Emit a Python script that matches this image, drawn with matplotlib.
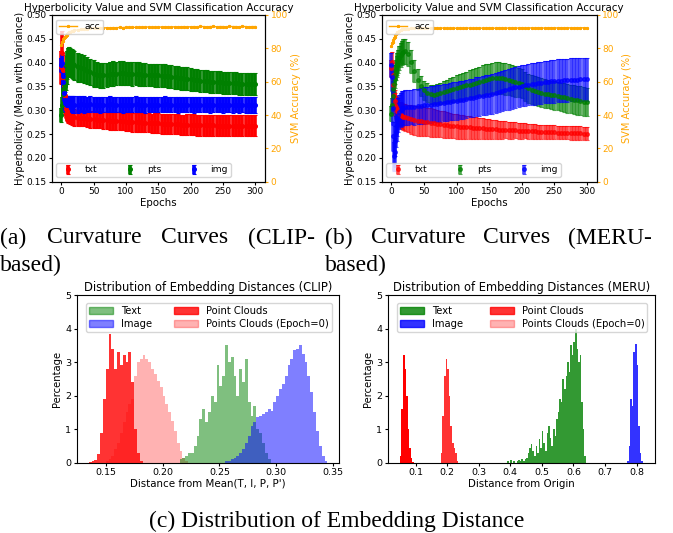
import numpy as np
import matplotlib
matplotlib.use("Agg")
import matplotlib.pyplot as plt
from matplotlib.patches import Patch

plt.rcParams['font.family'] = ['DejaVu Sans']
plt.rcParams['font.size'] = 6.5

# ---- curvature curves (epochs sampled densely early, every 5 after) ----
ep = [0, 1, 2, 3, 4, 5, 6, 7, 8, 9, 10, 12, 14, 16, 18, 20,
      25, 30, 35, 40, 45, 50, 55, 60,
      65, 70, 75, 80, 85, 90, 95, 100,
      105, 110, 115, 120, 125, 130, 135, 140,
      145, 150, 155, 160, 165, 170, 175, 180,
      185, 190, 195, 200, 205, 210, 215, 220,
      225, 230, 235, 240, 245, 250, 255, 260,
      265, 270, 275, 280, 285, 290, 295, 300]

# CLIP-based
clip_txt = [0.390, 0.421, 0.385, 0.368, 0.350, 0.330, 0.312, 0.303, 0.298, 0.295, 0.292, 0.290, 0.288, 0.287, 0.286, 0.285,
            0.284, 0.283, 0.283, 0.282, 0.281, 0.281, 0.280, 0.280,
            0.279, 0.279, 0.278, 0.278, 0.277, 0.277, 0.277, 0.276,
            0.276, 0.275, 0.275, 0.275, 0.274, 0.274, 0.274, 0.273,
            0.273, 0.273, 0.272, 0.272, 0.272, 0.271, 0.271, 0.271,
            0.270, 0.270, 0.270, 0.270, 0.270, 0.269, 0.269, 0.269,
            0.269, 0.269, 0.269, 0.268, 0.268, 0.268, 0.268, 0.268,
            0.268, 0.268, 0.268, 0.268, 0.268, 0.268, 0.268, 0.268]
clip_txt_err = [0.035, 0.045, 0.030, 0.025, 0.025, 0.025, 0.022, 0.020, 0.019, 0.018, 0.018, 0.017, 0.017, 0.017, 0.017, 0.017,
                0.017, 0.017, 0.017, 0.018, 0.018, 0.018, 0.018, 0.018,
                0.018, 0.018, 0.019, 0.019, 0.019, 0.019, 0.019, 0.019,
                0.020, 0.020, 0.020, 0.020, 0.020, 0.020, 0.020, 0.020,
                0.021, 0.021, 0.021, 0.021, 0.021, 0.021, 0.021, 0.021,
                0.021, 0.021, 0.022, 0.022, 0.022, 0.022, 0.022, 0.022,
                0.022, 0.022, 0.022, 0.022, 0.022, 0.022, 0.022, 0.022,
                0.022, 0.022, 0.022, 0.022, 0.022, 0.022, 0.022, 0.022]
clip_pts = [0.290, 0.312, 0.335, 0.345, 0.355, 0.350, 0.355, 0.370, 0.385, 0.395, 0.400, 0.402, 0.400, 0.398, 0.396, 0.394,
            0.390, 0.388, 0.386, 0.383, 0.380, 0.377, 0.375, 0.373,
            0.373, 0.374, 0.376, 0.377, 0.377, 0.378, 0.378, 0.377,
            0.377, 0.376, 0.377, 0.376, 0.375, 0.375, 0.374, 0.374,
            0.373, 0.373, 0.372, 0.372, 0.371, 0.370, 0.369, 0.368,
            0.367, 0.366, 0.366, 0.365, 0.364, 0.363, 0.362, 0.362,
            0.361, 0.360, 0.360, 0.359, 0.359, 0.358, 0.358, 0.357,
            0.357, 0.357, 0.356, 0.356, 0.356, 0.355, 0.355, 0.355]
clip_pts_err = [0.015, 0.015, 0.015, 0.015, 0.018, 0.020, 0.024, 0.027, 0.029, 0.030, 0.030, 0.030, 0.030, 0.030, 0.030, 0.030,
                0.030, 0.029, 0.029, 0.028, 0.028, 0.028, 0.027, 0.027,
                0.027, 0.026, 0.026, 0.026, 0.025, 0.025, 0.025, 0.025,
                0.025, 0.025, 0.025, 0.025, 0.025, 0.024, 0.024, 0.024,
                0.024, 0.024, 0.024, 0.024, 0.024, 0.024, 0.024, 0.024,
                0.024, 0.024, 0.024, 0.024, 0.023, 0.023, 0.023, 0.023,
                0.023, 0.023, 0.023, 0.023, 0.023, 0.023, 0.023, 0.023,
                0.023, 0.023, 0.023, 0.023, 0.023, 0.023, 0.023, 0.023]
clip_img = [0.395, 0.400, 0.372, 0.360, 0.336, 0.322, 0.316, 0.313, 0.312, 0.312, 0.312, 0.312, 0.312, 0.312, 0.312, 0.312,
            0.312, 0.313, 0.312, 0.312, 0.313, 0.312, 0.312, 0.311,
            0.312, 0.312, 0.313, 0.312, 0.312, 0.312, 0.311, 0.312,
            0.312, 0.312, 0.313, 0.312, 0.312, 0.311, 0.312, 0.312,
            0.312, 0.312, 0.312, 0.313, 0.312, 0.312, 0.312, 0.311,
            0.312, 0.312, 0.312, 0.312, 0.311, 0.312, 0.312, 0.312,
            0.312, 0.311, 0.312, 0.312, 0.312, 0.311, 0.312, 0.312,
            0.311, 0.312, 0.311, 0.312, 0.311, 0.311, 0.311, 0.311]
clip_img_err = [0.015, 0.020, 0.018, 0.018, 0.017, 0.017, 0.017, 0.017, 0.017, 0.017, 0.017, 0.017, 0.017, 0.017, 0.017, 0.017,
                0.017, 0.017, 0.017, 0.016, 0.016, 0.016, 0.016, 0.016,
                0.016, 0.016, 0.016, 0.016, 0.016, 0.016, 0.016, 0.016,
                0.016, 0.016, 0.016, 0.016, 0.016, 0.016, 0.016, 0.016,
                0.016, 0.016, 0.016, 0.016, 0.016, 0.016, 0.016, 0.016,
                0.016, 0.016, 0.016, 0.016, 0.016, 0.016, 0.016, 0.016,
                0.016, 0.016, 0.016, 0.016, 0.016, 0.016, 0.016, 0.016,
                0.016, 0.016, 0.016, 0.016, 0.016, 0.016, 0.016, 0.016]
clip_acc = [82.0, 83.5, 84.5, 85.3, 86.0, 86.5, 87.0, 87.5, 88.0, 88.5, 89.0, 89.5, 90.0, 90.3, 90.5, 90.7,
            91.0, 91.3, 91.5, 91.7, 91.9, 92.0, 92.1, 92.2,
            92.2, 92.3, 92.2, 92.4, 92.3, 92.5, 92.4, 92.6,
            92.5, 92.6, 92.5, 92.7, 92.6, 92.7, 92.8, 92.6,
            92.7, 92.8, 92.7, 92.9, 92.8, 92.7, 92.9, 92.8,
            92.9, 93.0, 92.8, 92.9, 93.0, 92.9, 93.1, 93.0,
            92.9, 93.0, 93.1, 92.9, 93.0, 93.0, 92.9, 93.1,
            93.0, 93.0, 92.9, 93.1, 93.0, 92.9, 93.0, 93.0]

# MERU-based
meru_txt = [0.388, 0.402, 0.375, 0.352, 0.333, 0.320, 0.312, 0.306, 0.302, 0.298, 0.296, 0.292, 0.290, 0.288, 0.286, 0.285,
            0.283, 0.281, 0.279, 0.278, 0.277, 0.276, 0.275, 0.274,
            0.273, 0.272, 0.271, 0.270, 0.269, 0.268, 0.267, 0.266,
            0.265, 0.265, 0.264, 0.264, 0.263, 0.263, 0.262, 0.262,
            0.261, 0.261, 0.260, 0.260, 0.259, 0.259, 0.259, 0.258,
            0.258, 0.258, 0.257, 0.257, 0.257, 0.256, 0.256, 0.256,
            0.255, 0.255, 0.255, 0.254, 0.254, 0.254, 0.253, 0.253,
            0.253, 0.253, 0.252, 0.252, 0.252, 0.252, 0.251, 0.251]
meru_txt_err = [0.018, 0.020, 0.020, 0.020, 0.022, 0.022, 0.024, 0.024, 0.025, 0.025, 0.025, 0.026, 0.027, 0.027, 0.028, 0.028,
                0.029, 0.030, 0.030, 0.031, 0.031, 0.031, 0.030, 0.030,
                0.029, 0.029, 0.028, 0.028, 0.027, 0.027, 0.026, 0.026,
                0.025, 0.025, 0.024, 0.024, 0.023, 0.023, 0.022, 0.022,
                0.021, 0.021, 0.020, 0.020, 0.019, 0.019, 0.018, 0.018,
                0.018, 0.017, 0.017, 0.017, 0.016, 0.016, 0.016, 0.016,
                0.015, 0.015, 0.015, 0.015, 0.015, 0.015, 0.014, 0.014,
                0.014, 0.014, 0.014, 0.014, 0.014, 0.014, 0.014, 0.014]
meru_pts = [0.293, 0.310, 0.330, 0.345, 0.355, 0.365, 0.375, 0.385, 0.392, 0.398, 0.403, 0.410, 0.416, 0.420, 0.423, 0.424,
            0.418, 0.402, 0.382, 0.364, 0.350, 0.342, 0.337, 0.334,
            0.333, 0.334, 0.336, 0.338, 0.340, 0.342, 0.344, 0.346,
            0.348, 0.350, 0.352, 0.354, 0.356, 0.358, 0.360, 0.362,
            0.364, 0.366, 0.367, 0.368, 0.368, 0.367, 0.366, 0.364,
            0.362, 0.360, 0.358, 0.356, 0.350, 0.346, 0.343, 0.341,
            0.339, 0.337, 0.335, 0.334, 0.332, 0.331, 0.330, 0.328,
            0.327, 0.325, 0.324, 0.322, 0.321, 0.320, 0.318, 0.317]
meru_pts_err = [0.015, 0.015, 0.015, 0.016, 0.017, 0.018, 0.020, 0.021, 0.022, 0.023, 0.024, 0.025, 0.026, 0.026, 0.026, 0.026,
                0.025, 0.024, 0.023, 0.022, 0.021, 0.020, 0.020, 0.020,
                0.020, 0.021, 0.022, 0.023, 0.024, 0.025, 0.026, 0.027,
                0.028, 0.028, 0.029, 0.030, 0.030, 0.031, 0.031, 0.032,
                0.032, 0.032, 0.033, 0.033, 0.033, 0.033, 0.033, 0.032,
                0.032, 0.032, 0.031, 0.031, 0.031, 0.031, 0.030, 0.030,
                0.030, 0.030, 0.030, 0.030, 0.030, 0.030, 0.030, 0.030,
                0.030, 0.030, 0.030, 0.030, 0.030, 0.030, 0.030, 0.030]
meru_img = [0.395, 0.370, 0.305, 0.245, 0.203, 0.212, 0.235, 0.255, 0.270, 0.282, 0.290, 0.297, 0.301, 0.304, 0.305, 0.306,
            0.306, 0.307, 0.307, 0.308, 0.309, 0.310, 0.311, 0.312,
            0.313, 0.314, 0.315, 0.316, 0.317, 0.318, 0.319, 0.320,
            0.321, 0.322, 0.324, 0.325, 0.326, 0.328, 0.329, 0.330,
            0.332, 0.333, 0.335, 0.336, 0.338, 0.340, 0.342, 0.344,
            0.346, 0.348, 0.349, 0.351, 0.352, 0.354, 0.355, 0.356,
            0.357, 0.358, 0.359, 0.360, 0.361, 0.361, 0.362, 0.362,
            0.363, 0.363, 0.364, 0.364, 0.364, 0.365, 0.365, 0.365]
meru_img_err = [0.025, 0.030, 0.035, 0.030, 0.030, 0.030, 0.032, 0.033, 0.034, 0.035, 0.035, 0.036, 0.036, 0.036, 0.036, 0.036,
                0.036, 0.036, 0.037, 0.037, 0.037, 0.038, 0.038, 0.038,
                0.038, 0.038, 0.039, 0.039, 0.039, 0.039, 0.040, 0.040,
                0.040, 0.040, 0.040, 0.040, 0.040, 0.041, 0.041, 0.041,
                0.041, 0.041, 0.042, 0.042, 0.042, 0.042, 0.042, 0.043,
                0.043, 0.043, 0.043, 0.043, 0.043, 0.044, 0.044, 0.044,
                0.044, 0.044, 0.044, 0.044, 0.045, 0.045, 0.045, 0.045,
                0.045, 0.045, 0.045, 0.045, 0.045, 0.045, 0.045, 0.045]
meru_acc = [81.5, 83.0, 84.0, 85.0, 86.0, 87.0, 87.8, 88.5, 89.0, 89.5, 90.0, 90.5, 91.0, 91.3, 91.5, 91.6,
            91.8, 91.9, 92.0, 91.9, 92.1, 92.0, 92.1, 91.9,
            92.0, 92.1, 92.0, 92.2, 92.0, 91.9, 92.1, 92.0,
            92.1, 92.0, 92.2, 92.1, 92.0, 92.1, 92.2, 92.0,
            92.1, 92.2, 92.0, 92.1, 92.2, 92.1, 92.0, 92.2,
            92.1, 92.2, 92.1, 92.3, 92.1, 92.2, 92.2, 92.1,
            92.3, 92.2, 92.1, 92.2, 92.3, 92.2, 92.2, 92.3,
            92.2, 92.3, 92.2, 92.2, 92.3, 92.2, 92.3, 92.3]

# ---- embedding distance histograms: bin start, bin width, bar heights ----
clip_w = 0.0025
clip_text_x0 = 0.215
clip_text_h = [0.1, 0.15, 0.2, 0.3, 0.3, 0.5, 0.8, 1.3, 1.6, 1.2, 1.5, 2.0, 1.8, 2.9, 2.3, 2.6,
               3.5, 3.0, 3.15, 2.6, 2.0, 2.8, 2.4, 3.1, 1.8, 1.4, 1.7, 1.0, 0.9, 0.6, 0.3, 0.1]
clip_img_x0 = 0.255
clip_img_h = [0.05, 0.05, 0.1, 0.15, 0.2, 0.3, 0.4, 0.6, 0.8, 1.1, 1.2, 1.35, 1.4, 1.45, 1.5, 1.6,
              1.55, 1.8, 2.0, 2.2, 2.35, 2.6, 2.9, 3.1, 3.35, 3.4, 3.5, 3.25, 3.0, 2.6, 2.1, 1.5,
              0.95, 0.5, 0.2, 0.05]
clip_pc_x0 = 0.135
clip_pc_h = [0.02, 0.04, 0.08, 0.25, 0.9, 1.9, 2.8, 3.85, 3.4, 2.8, 3.3, 2.9, 3.2, 3.0, 3.3, 2.4,
             1.0, 0.3, 0.05]
clip_pc0_x0 = 0.150
clip_pc0_h = [0.05, 0.1, 0.2, 0.4, 0.6, 0.9, 1.2, 1.5, 1.75, 1.9, 2.6, 3.0, 3.1, 3.2, 3.1, 3.0,
              2.8, 2.65, 2.45, 2.25, 2.0, 1.75, 1.5, 1.25, 0.95, 0.6, 0.35, 0.15, 0.05]

meru_w = 0.005
meru_text_x0 = 0.390
meru_text_h = [0.05, 0.0, 0.07, 0.0, 0.05, 0.0, 0.05, 0.08, 0.04, 0.1, 0.05, 0.1, 0.15, 0.3, 0.45, 0.55,
               0.35, 0.2, 0.5, 0.3, 0.7, 0.45, 0.95, 0.6, 0.35, 0.9, 1.1, 0.75, 0.5, 1.0, 0.8, 1.3,
               1.5, 1.9, 1.8, 2.5, 2.2, 2.6, 3.0, 2.7, 3.5, 3.2, 3.6, 4.0, 3.4, 3.0, 3.2, 1.8,
               1.0, 0.2]
meru_img_x0 = 0.770
meru_img_h = [0.05, 0.5, 1.9, 1.7, 3.3, 3.55, 2.9, 1.1, 0.3, 0.05]
meru_pc_x0 = 0.050
meru_pc_h = [0.2, 1.6, 3.2, 2.8, 2.0, 1.0, 0.45, 0.15, 0.03]
meru_pc0_x0 = 0.180
meru_pc0_h = [0.3, 1.4, 2.6, 3.1, 2.8, 2.0, 1.1, 0.6, 0.45, 0.3, 0.05]

fig = plt.figure(figsize=(6.73, 5.33), dpi=100)


def curve_panel(rect, txt, txt_e, pts, pts_e, img, img_e, acc, alpha):
    ax = fig.add_axes(rect)
    handles = []
    for mu, err, c, lab in [(txt, txt_e, 'red', 'txt'), (pts, pts_e, 'green', 'pts'), (img, img_e, 'blue', 'img')]:
        ec = matplotlib.colors.to_rgba(c, alpha)
        h = ax.errorbar(ep, mu, yerr=err, fmt='o', color=c, ecolor=ec, markersize=2.6,
                        elinewidth=2.6, capsize=1.4, capthick=0.8, label=lab, alpha=max(alpha, 0.7))
        handles.append(h)
    ax.set_ylim(0.15, 0.50)
    ax.set_xticks(range(0, 301, 50))
    ax.set_xlabel('Epochs', labelpad=1, fontsize=7.4)
    ax.set_ylabel('Hyperbolicity (Mean with Variance)', labelpad=1, fontsize=7.1)
    ax.set_title('Hyperbolicity Value and SVM Classification Accuracy', pad=2.5, fontsize=7.4)
    ax.tick_params(length=2.5, pad=1.5)
    ax.legend(handles=handles, loc='lower left', ncol=3, fontsize=6.6, handletextpad=0.8,
              columnspacing=2.6, borderpad=0.3)
    ax2 = ax.twinx()
    ax2.plot(ep, acc, color='orange', marker='*', markersize=2, linewidth=1, label='acc')
    ax2.set_ylim(0, 100)
    ax2.set_ylabel('SVM Accuracy (%)', color='orange', labelpad=2, fontsize=7.1)
    ax2.tick_params(axis='y', colors='orange', length=2.5, pad=1.5)
    ax2.legend(loc='upper left', fontsize=6.6, borderpad=0.3)
    return ax


curve_panel([0.0768, 0.659, 0.317, 0.313], clip_txt, clip_txt_err, clip_pts, clip_pts_err,
            clip_img, clip_img_err, clip_acc, 1.0)
curve_panel([0.5672, 0.659, 0.3194, 0.313], meru_txt, meru_txt_err, meru_pts, meru_pts_err,
            meru_img, meru_img_err, meru_acc, 0.5)


def bars(ax, x0, w, h, **kw):
    x = x0 + w * np.arange(len(h))
    ax.bar(x, h, width=w, align='edge', linewidth=0, **kw)


def hist_style(ax, title, xlabel, alphas):
    ax.set_ylim(0, 5)
    ax.set_title(title, pad=3, fontsize=8.3)
    ax.set_xlabel(xlabel, labelpad=1, fontsize=7.4)
    ax.set_ylabel('Percentage', labelpad=2, fontsize=7.2)
    ax.tick_params(length=2.5, pad=1.5, labelsize=6.8)
    ax.legend(handles=[Patch(color='green', alpha=alphas[0], label='Text'),
                       Patch(color='blue', alpha=alphas[1], label='Image'),
                       Patch(color='red', alpha=0.8, label='Point Clouds'),
                       Patch(color='red', alpha=0.3, label='Points Clouds (Epoch=0)')],
              loc='upper left', bbox_to_anchor=(0.015, 0.0, 0.975, 0.985), mode='expand',
              ncol=2, fontsize=7.2, borderpad=0.3, labelspacing=0.3, handlelength=2.4)


# CLIP histogram
ax3 = fig.add_axes([0.114, 0.1319, 0.3902, 0.3146])
bars(ax3, clip_pc0_x0, clip_w, clip_pc0_h, color='red', alpha=0.3)
bars(ax3, clip_pc_x0, clip_w, clip_pc_h, color='red', alpha=0.8)
bars(ax3, clip_text_x0, clip_w, clip_text_h, color='green', alpha=0.5)
bars(ax3, clip_img_x0, clip_w, clip_img_h, color='blue', alpha=0.5)
ax3.set_xticks([0.15, 0.20, 0.25, 0.30, 0.35])
hist_style(ax3, 'Distribution of Embedding Distances (CLIP)', "Distance from Mean(T, I, P, P')", (0.5, 0.5))

# MERU histogram
ax4 = fig.add_axes([0.5761, 0.1319, 0.3972, 0.3146])
bars(ax4, meru_pc_x0, meru_w, meru_pc_h, color='red', alpha=1.0)
bars(ax4, meru_pc0_x0, meru_w, meru_pc0_h, color='red', alpha=0.8)
bars(ax4, meru_text_x0, meru_w, meru_text_h, color='green', alpha=0.8)
bars(ax4, meru_img_x0, meru_w, meru_img_h, color='blue', alpha=0.8)
ax4.set_xticks([0.1, 0.2, 0.3, 0.4, 0.5, 0.6, 0.7, 0.8])
hist_style(ax4, 'Distribution of Embedding Distances (MERU)', 'Distance from Origin', (0.8, 0.8))

# captions (justified like the paper layout)
cap = dict(family='Liberation Serif', fontsize=17, va='center')
for x, word in [(0, '(a)'), (46.6, 'Curvature'), (161, 'Curves'), (248, '(CLIP-'),
                (325, '(b)'), (371, 'Curvature'), (483, 'Curves'), (568, '(MERU-')]:
    fig.text(x / 673, 1 - 238 / 533, word, **cap)
fig.text(0, 1 - 265 / 533, 'based)', **cap)
fig.text(325 / 673, 1 - 265 / 533, 'based)', **cap)
fig.text(0.5, 1 - 521 / 533, '(c) Distribution of Embedding Distance', ha='center', **cap)

fig.savefig('out.png', dpi=100)
